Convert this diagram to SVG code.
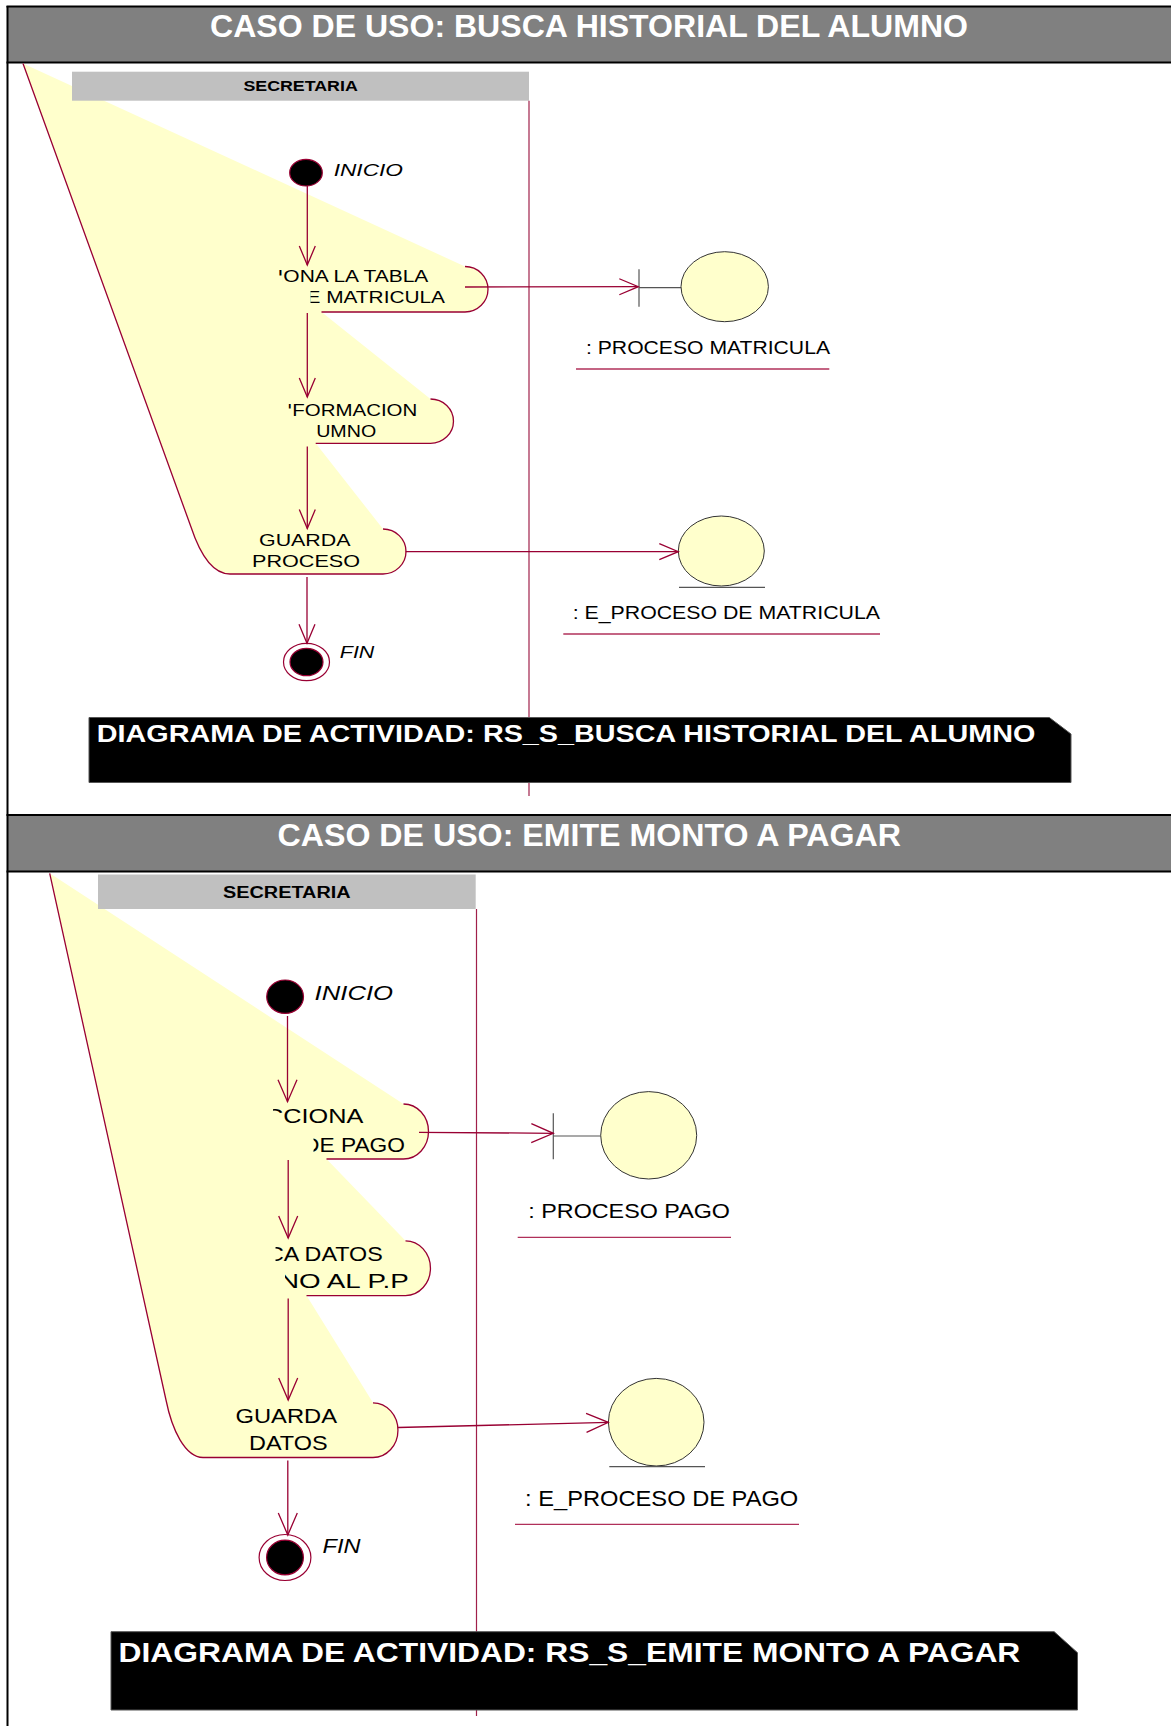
<svg xmlns="http://www.w3.org/2000/svg" width="1171" height="1726" viewBox="0 0 1171 1726">
<style>
.hdr{fill:#808080}
.frame{stroke:#000;stroke-width:2;fill:none}
.title{font-family:"Liberation Sans",Arial,sans-serif;font-weight:bold;font-size:32px;fill:#fff}
.foot{fill:#000;stroke:#555;stroke-width:1}
.foottxt{font-family:"Liberation Sans",Arial,sans-serif;font-weight:bold;fill:#fff}
.lanehd{fill:#c0c0c0}
.lanetxt{font-family:"Liberation Sans",Arial,sans-serif;font-weight:bold;fill:#000}
.lane{stroke:#a0204a;stroke-width:1.2;fill:none}
.act{fill:#ffffcc;stroke:none}
.edge{fill:none;stroke:#990033;stroke-width:1.3}
.t{font-family:"Liberation Sans",Arial,sans-serif;fill:#000}
.it{font-family:"Liberation Sans",Arial,sans-serif;font-style:italic;fill:#000}
.start{fill:#000;stroke:#990033;stroke-width:1.2}
.endo{fill:#fff;stroke:#990033;stroke-width:1.2}
.obj{fill:#ffffcc;stroke:#333;stroke-width:1}
.objln{stroke:#555;stroke-width:1.2;fill:none}
.uline{stroke:#b0305a;stroke-width:1.3;fill:none}
.conn{fill:none;stroke:#990033;stroke-width:1.3}
</style>
<defs>
<marker id="arrA" markerUnits="userSpaceOnUse" markerWidth="30" markerHeight="30" refX="0" refY="0" orient="auto" overflow="visible">
<path d="M-19,-8 L0,0 L-19,8" fill="none" stroke="#990033" stroke-width="1.3"/>
</marker>
<marker id="arrB" markerUnits="userSpaceOnUse" markerWidth="30" markerHeight="30" refX="0" refY="0" orient="auto" overflow="visible">
<path d="M-22,-9.5 L0,0 L-22,9.5" fill="none" stroke="#990033" stroke-width="1.3"/>
</marker>
<clipPath id="clipA1"><polygon points="278,255 520,255 520,320 310.5,320 310.5,286 282.3,286 282.3,275.5 278,275.5"/></clipPath>
<clipPath id="clipA2"><polygon points="287.5,395 520,395 520,450 292.5,450 292.5,408.5 287.5,408.5"/></clipPath>
<clipPath id="clipB1"><polygon points="273,1095 520,1095 520,1170 313.5,1170 313.5,1129 283,1129 283,1113 273,1113"/></clipPath>
<clipPath id="clipB2"><polygon points="275.5,1235 520,1235 520,1300 285,1300 285,1267 275.5,1267"/></clipPath>
</defs>

<rect width="1171" height="1726" fill="#fff"/>

<g id="header1">
<rect class="hdr" x="7.5" y="6.5" width="1164" height="56"/>
<line class="frame" x1="6.5" y1="6.5" x2="1171" y2="6.5"/>
<line class="frame" x1="6.5" y1="62.5" x2="1171" y2="62.5"/>
<text class="title" x="210" y="37" textLength="758" lengthAdjust="spacingAndGlyphs">CASO DE USO: BUSCA HISTORIAL DEL ALUMNO</text>
</g>

<g id="header2">
<rect class="hdr" x="7.5" y="815" width="1164" height="56.5"/>
<line class="frame" x1="6.5" y1="815" x2="1171" y2="815"/>
<line class="frame" x1="6.5" y1="871.5" x2="1171" y2="871.5"/>
<text class="title" x="277.5" y="846" textLength="623.5" lengthAdjust="spacingAndGlyphs">CASO DE USO: EMITE MONTO A PAGAR</text>
</g>
<line class="frame" x1="7.5" y1="6" x2="7.5" y2="1726"/>

<g id="activities1">
<path class="act" d="M23,63.5 L465,266.5 A23 22.75 0 0 1 465,312 L321.5,312 L430.5,399 A23 22.15 0 0 1 430.5,443.3 L315.7,443.3 L383,529 A23 22.5 0 0 1 383,574 L230,574 C210,574 198,548 191,527 Z"/>
<path class="edge" d="M23,63.5 L191,527 C198,548 210,574 230,574 L383,574"/>
<path class="edge" d="M383,529 A23 22.5 0 0 1 383,574"/>
<path class="edge" d="M430.5,399 A23 22.15 0 0 1 430.5,443.3 L315.7,443.3"/>
<path class="edge" d="M465,266.5 A23 22.75 0 0 1 465,312 L321.5,312"/>
</g>

<g id="lane1">
<rect class="lanehd" x="72" y="71.7" width="457" height="29"/>
<text class="lanetxt" x="243.4" y="91" font-size="15" textLength="114.4" lengthAdjust="spacingAndGlyphs">SECRETARIA</text>
<line class="lane" x1="529" y1="100.7" x2="529" y2="796"/>
</g>

<g id="act1-text" clip-path="url(#clipA1)">
<text class="t" x="277.5" y="282.3" font-size="17" textLength="150.8" lengthAdjust="spacingAndGlyphs">IONA LA TABLA</text>
<text class="t" x="306.5" y="303.3" font-size="17" textLength="138.5" lengthAdjust="spacingAndGlyphs">E MATRICULA</text>
</g>
<g id="act2-text">
<text class="t" x="277.5" y="415.7" font-size="17" textLength="139.8" lengthAdjust="spacingAndGlyphs" clip-path="url(#clipA2)">NFORMACION</text>
<text class="t" x="316.2" y="437.3" font-size="17" textLength="60" lengthAdjust="spacingAndGlyphs">UMNO</text>
</g>
<g id="act3-text">
<text class="t" x="259" y="545.7" font-size="17" textLength="91.5" lengthAdjust="spacingAndGlyphs">GUARDA</text>
<text class="t" x="252" y="567.3" font-size="17" textLength="108" lengthAdjust="spacingAndGlyphs">PROCESO</text>
</g>

<g id="inicio1">
<ellipse class="start" cx="306" cy="172.7" rx="16.3" ry="13.3"/>
<text class="it" x="333.7" y="175.7" font-size="17" textLength="69.3" lengthAdjust="spacingAndGlyphs">INICIO</text>
</g>
<g id="fin1">
<ellipse class="endo" cx="306.5" cy="662" rx="23" ry="18.7"/>
<ellipse class="start" cx="306.5" cy="662" rx="16.5" ry="13.7"/>
<text class="it" x="339.8" y="658.3" font-size="17" textLength="34.5" lengthAdjust="spacingAndGlyphs">FIN</text>
</g>

<g id="boundary1">
<line class="objln" x1="639" y1="269.3" x2="639" y2="306.7"/>
<line class="objln" x1="639" y1="287.7" x2="681" y2="287.7"/>
<ellipse class="obj" cx="724.7" cy="286.7" rx="43.7" ry="35"/>
<text class="t" x="586" y="354.3" font-size="19" textLength="244" lengthAdjust="spacingAndGlyphs">: PROCESO MATRICULA</text>
<line class="uline" x1="576" y1="369" x2="829.3" y2="369"/>
</g>
<g id="entity1">
<ellipse class="obj" cx="721.3" cy="551" rx="43" ry="35"/>
<line class="objln" x1="679" y1="587.3" x2="765" y2="587.3"/>
<text class="t" x="572.7" y="619" font-size="18.5" textLength="307.3" lengthAdjust="spacingAndGlyphs">: E_PROCESO DE MATRICULA</text>
<line class="uline" x1="563.3" y1="634" x2="880" y2="634"/>
</g>

<g id="activities2">
<path class="act" d="M49.7,873.3 L403.5,1104 A25 27.5 0 0 1 403.5,1159 L326.5,1159 L405.5,1240.8 A25 27.4 0 0 1 405.5,1295.6 L306.5,1295.6 L373,1402.8 A25 27.35 0 0 1 373,1457.5 L203,1457.5 C185,1457 172,1430 166,1400 Z"/>
<path class="edge" d="M49.7,873.3 L166,1400 C172,1430 185,1457 203,1457.5 L373,1457.5"/>
<path class="edge" d="M373,1402.8 A25 27.35 0 0 1 373,1457.5"/>
<path class="edge" d="M405.5,1240.8 A25 27.4 0 0 1 405.5,1295.6 L306.5,1295.6"/>
<path class="edge" d="M403.5,1104 A25 27.5 0 0 1 403.5,1159 L326.5,1159"/>
</g>

<g id="lane2">
<rect class="lanehd" x="98" y="874.5" width="377.7" height="34.5"/>
<text class="lanetxt" x="223" y="897.7" font-size="16" textLength="127.6" lengthAdjust="spacingAndGlyphs">SECRETARIA</text>
<line class="lane" x1="476.5" y1="909" x2="476.5" y2="1716"/>
</g>

<g id="act1b-text" clip-path="url(#clipB1)">
<text class="t" x="265" y="1123.3" font-size="21" textLength="98.3" lengthAdjust="spacingAndGlyphs">CCIONA</text>
<text class="t" x="303" y="1151.7" font-size="21" textLength="102" lengthAdjust="spacingAndGlyphs">DE PAGO</text>
</g>
<g id="act2b-text" clip-path="url(#clipB2)">
<text class="t" x="267" y="1260.5" font-size="21" textLength="115.7" lengthAdjust="spacingAndGlyphs">CA DATOS</text>
<text class="t" x="279" y="1288" font-size="21" textLength="129.7" lengthAdjust="spacingAndGlyphs">NO AL P.P</text>
</g>
<g id="act3b-text">
<text class="t" x="235.5" y="1422.7" font-size="21" textLength="101.5" lengthAdjust="spacingAndGlyphs">GUARDA</text>
<text class="t" x="249" y="1450.2" font-size="21" textLength="78.5" lengthAdjust="spacingAndGlyphs">DATOS</text>
</g>

<g id="inicio2">
<ellipse class="start" cx="285.1" cy="996.7" rx="18.4" ry="16.7"/>
<text class="it" x="314.6" y="1000" font-size="21" textLength="78.4" lengthAdjust="spacingAndGlyphs">INICIO</text>
</g>
<g id="fin2">
<ellipse class="endo" cx="285" cy="1557.5" rx="25.9" ry="23"/>
<ellipse class="start" cx="285" cy="1557.5" rx="18.4" ry="17.4"/>
<text class="it" x="322.6" y="1553.3" font-size="20.5" textLength="37.9" lengthAdjust="spacingAndGlyphs">FIN</text>
</g>

<g id="boundary2">
<line class="objln" x1="553.3" y1="1113.3" x2="553.3" y2="1159.3"/>
<line class="objln" x1="553.3" y1="1136" x2="600.7" y2="1136"/>
<ellipse class="obj" cx="648.7" cy="1135.3" rx="48" ry="43.7"/>
<text class="t" x="528.3" y="1218.3" font-size="21" textLength="201.7" lengthAdjust="spacingAndGlyphs">: PROCESO PAGO</text>
<line class="uline" x1="517.7" y1="1237.3" x2="731" y2="1237.3"/>
</g>
<g id="entity2">
<ellipse class="obj" cx="656.2" cy="1422.2" rx="47.8" ry="43.8"/>
<line class="objln" x1="609.3" y1="1466.7" x2="705" y2="1466.7"/>
<text class="t" x="525" y="1506" font-size="22" textLength="273.3" lengthAdjust="spacingAndGlyphs">: E_PROCESO DE PAGO</text>
<line class="uline" x1="515" y1="1524.3" x2="799" y2="1524.3"/>
</g>

<g id="connectors">
<line class="conn" x1="307.3" y1="186" x2="307.3" y2="265" marker-end="url(#arrA)"/>
<line class="conn" x1="307.3" y1="313" x2="307.3" y2="397" marker-end="url(#arrA)"/>
<line class="conn" x1="307.3" y1="446.5" x2="307.3" y2="528.5" marker-end="url(#arrA)"/>
<line class="conn" x1="307" y1="577" x2="307" y2="643.3" marker-end="url(#arrA)"/>
<line class="conn" x1="465" y1="287" x2="638.3" y2="286.7" marker-end="url(#arrA)"/>
<line class="conn" x1="405.6" y1="551.7" x2="678.3" y2="551.7" marker-end="url(#arrA)"/>
<line class="conn" x1="287.5" y1="1016" x2="287.5" y2="1101.7" marker-end="url(#arrB)"/>
<line class="conn" x1="288.2" y1="1160" x2="288.2" y2="1238" marker-end="url(#arrB)"/>
<line class="conn" x1="288.2" y1="1298.5" x2="288.2" y2="1400" marker-end="url(#arrB)"/>
<line class="conn" x1="287.8" y1="1460.5" x2="287.8" y2="1535" marker-end="url(#arrB)"/>
<line class="conn" x1="419" y1="1132.3" x2="553.3" y2="1133.3" marker-end="url(#arrB)"/>
<line class="conn" x1="398" y1="1427.5" x2="608.3" y2="1422.3" marker-end="url(#arrB)"/>
</g>

<g id="footer1">
<polygon class="foot" points="89,717.5 1049.3,717.5 1071,734 1071,782.5 89,782.5"/>
<text class="foottxt" x="96.8" y="741.7" font-size="23" textLength="938.5" lengthAdjust="spacingAndGlyphs">DIAGRAMA DE ACTIVIDAD: RS_S_BUSCA HISTORIAL DEL ALUMNO</text>
</g>
<g id="footer2">
<polygon class="foot" points="111,1631.7 1054.2,1631.7 1077.5,1652.7 1077.5,1710 111,1710"/>
<text class="foottxt" x="118.6" y="1661.7" font-size="28" textLength="901.7" lengthAdjust="spacingAndGlyphs">DIAGRAMA DE ACTIVIDAD: RS_S_EMITE MONTO A PAGAR</text>
</g>
</svg>
